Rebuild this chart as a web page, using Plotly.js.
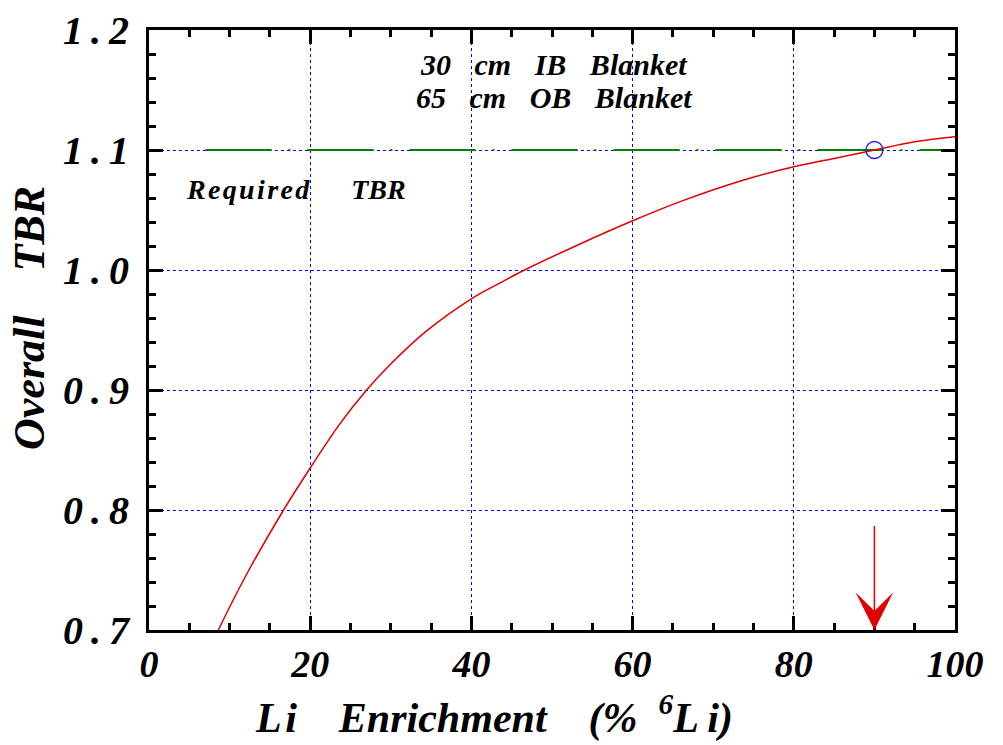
<!DOCTYPE html>
<html>
<head>
<meta charset="utf-8">
<script src="https://cdn.plot.ly/plotly-3.0.1.min.js"></script>
<style>html,body{margin:0;padding:0;background:#fff;}#chart{width:1003px;height:745px;}</style>
</head>
<body>
<div id="chart"></div>
<script>
// Overall TBR vs Li enrichment
const enrichment = [8.6, 12, 16.7, 20, 23.7, 27, 29.9, 34.4, 40, 43.5, 46.6, 52.6, 60, 65.9, 73.3, 80, 85, 90, 95.2, 100];
const overallTBR = [0.700, 0.745, 0.800, 0.835, 0.872, 0.900, 0.921, 0.949, 0.976, 0.989, 1.000, 1.019, 1.041, 1.057, 1.074, 1.086, 1.093, 1.100, 1.107, 1.111];
const requiredX = [7, 100];
const requiredY = [1.1, 1.1];
const pointX = [90];
const pointY = [1.1];
const arrowX = 90, arrowTop = 0.788, arrowBottom = 0.7;
const xTickVals = [0, 20, 40, 60, 80, 100];
const xTickText = ["0", "20", "40", "60", "80", "100"];
const yTickVals = [0.7, 0.8, 0.9, 1.0, 1.1, 1.2];
const yTickText = ["0.7", "0.8", "0.9", "1.0", "1.1", "1.2"];

const THIN = "\u2009", EN = "\u2002", HAIR = "\u200A";
const F = "Liberation Serif, Times New Roman, serif";
const bi = (size) => ({family: F, size: size, color: "#000", weight: 700, style: "italic"});
const gap = EN + THIN;

const traces = [
  {x: requiredX, y: requiredY, mode: "lines", line: {color: "#008000", width: 2, dash: "66px,17px,2px,17px"}, hoverinfo: "skip"},
  {x: enrichment, y: overallTBR, mode: "lines", line: {color: "#e00000", width: 1.5, shape: "spline", smoothing: 1}},
  {x: pointX, y: pointY, mode: "markers", marker: {symbol: "circle-open", size: 17, color: "#2020e0", line: {width: 1.3, color: "#2020e0"}}}
];

const axisCommon = {
  showline: true, linecolor: "#000", linewidth: 3, mirror: "allticks",
  ticks: "inside", ticklen: 14, tickwidth: 3, tickcolor: "#000",
  showgrid: true, gridcolor: "#0000ff", gridwidth: 1, griddash: "3px,3px",
  zeroline: false, tickmode: "array"
};

const layout = {
  width: 1003, height: 745,
  margin: {l: 149, r: 48, t: 30, b: 115},
  paper_bgcolor: "#fff", plot_bgcolor: "#fff",
  showlegend: false,
  xaxis: Object.assign({}, axisCommon, {
    range: [0, 100], tickvals: xTickVals, ticktext: xTickText,
    tickfont: bi(38), ticklabelstandoff: -2,
    minor: {ticks: "inside", ticklen: 7, tickwidth: 3, tickcolor: "#000", dtick: 5, tick0: 0, showgrid: false}
  }),
  yaxis: Object.assign({}, axisCommon, {
    range: [0.7, 1.2], tickvals: yTickVals, ticktext: yTickText.map(s => s.split("").join(THIN)),
    tickfont: bi(40), ticklabelstandoff: 9,
    minor: {ticks: "inside", ticklen: 7, tickwidth: 3, tickcolor: "#000", dtick: 0.02, tick0: 0.7, showgrid: false}
  }),
  annotations: [
    {xref: "x", yref: "y", x: 50.3, y: 1.1715, xanchor: "center", text: ["30", "cm", "IB", "Blanket"].join(gap + HAIR), showarrow: false, font: bi(30)},
    {xref: "x", yref: "y", x: 50.3, y: 1.1435, xanchor: "center", text: ["65", "cm", "OB", "Blanket"].join(gap + HAIR), showarrow: false, font: bi(30)},
    {xref: "x", yref: "y", x: 18.2, y: 1.0675, xanchor: "center", text: "Required".split("").join(HAIR) + EN + EN + EN + "TBR", showarrow: false, font: bi(28)},
    {xref: "paper", yref: "paper", x: 0.428, y: -0.142, xanchor: "center", yanchor: "middle",
     text: "L" + HAIR + "i" + EN + EN + "Enrichment" + EN + EN + "(%" + EN + "<sup>6</sup>L" + THIN + "i)", showarrow: false, font: bi(42)},
    {xref: "paper", yref: "paper", x: -0.149, y: 0.52, xanchor: "center", yanchor: "middle", textangle: -90, text: "Overall" + EN + EN + "TBR", showarrow: false, font: bi(44)},
    {xref: "x", yref: "y", axref: "x", ayref: "y", x: arrowX, y: arrowBottom, ax: arrowX, ay: arrowTop, text: "",
     showarrow: true, arrowhead: 3, arrowsize: 4.2, arrowwidth: 1.5, arrowcolor: "#e00000"}
  ]
};

Plotly.newPlot("chart", traces, layout, {displayModeBar: false, staticPlot: true});
</script>
</body>
</html>
